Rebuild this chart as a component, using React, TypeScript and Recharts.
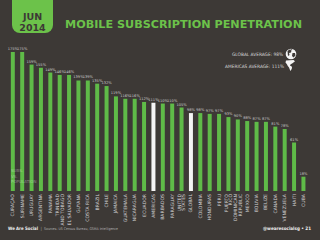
import React from "react";
import { BarChart, Bar, XAxis, YAxis, Cell, LabelList } from "recharts";

// Mobile subscriptions as a share of population, Americas, June 2014
const countries = [
  "CURAÇAO",
  "SURINAME",
  "URUGUAY",
  "ARGENTINA",
  "PANAMA",
  "TRINIDAD\nAND TOBAGO",
  "EL SALVADOR",
  "GUYANA",
  "COSTA RICA",
  "BRAZIL",
  "CHILE",
  "JAMAICA",
  "GUATEMALA",
  "NICARAGUA",
  "ECUADOR",
  "AMERICAS",
  "BARBADOS",
  "PARAGUAY",
  "UNITED\nSTATES",
  "GLOBAL",
  "COLOMBIA",
  "HONDURAS",
  "PERU",
  "PUERTO\nRICO",
  "DOMINICAN\nREPUBLIC",
  "MEXICO",
  "BOLIVIA",
  "BELIZE",
  "CANADA",
  "VENEZUELA",
  "HAITI",
  "CUBA",
];

const penetration = [
  175, 175, 159, 155, 149, 146, 146, 139, 139, 135, 132, 119, 116, 116, 112,
  111, 110, 110, 105, 98, 98, 97, 97, 93, 90, 88, 87, 87, 81, 78, 61, 18,
];

const averageBars = ["AMERICAS", "GLOBAL"];

const globalAverage = 98;
const americasAverage = 111;

const BG = "#3d3936";
const GREEN = "#5fbb48";
const TITLE_GREEN = "#6cc24a";

const data = countries.map((name, i) => ({ name, value: penetration[i] }));

const CountryTick = (props: any) => {
  const { x, y, payload } = props;
  const lines: string[] = String(payload.value).split("\n");
  const n = lines.length;
  return (
    <text
      transform={`translate(${x},${y}) rotate(-90)`}
      textAnchor="end"
      fontSize={4.6}
      fill="#d6d6d6"
      fontFamily="DejaVu Sans, sans-serif"
    >
      {lines.map((l, i) => (
        <tspan key={i} x={0} y={(i - (n - 1) / 2) * 4.8 + 1.6}>
          {l}
        </tspan>
      ))}
    </text>
  );
};

const ValueLabel = (props: any) => {
  const { x, y, width, value } = props;
  return (
    <text
      x={x + width / 2}
      y={y - 2}
      textAnchor="middle"
      fontSize={3.6}
      fill="#c8c8c8"
      fontFamily="DejaVu Sans, sans-serif"
    >
      {`${value}%`}
    </text>
  );
};

export default function App() {
  return (
    <div
      style={{
        position: "absolute",
        left: 0,
        top: 0,
        width: 320,
        height: 240,
        background: BG,
        overflow: "hidden",
      }}
    >
      <BarChart
        width={320}
        height={240}
        data={data}
        margin={{ top: 32, right: 12, bottom: 4, left: 8 }}
        barCategoryGap="30%"
      >
        <YAxis hide domain={[0, 200]} />
        <XAxis
          dataKey="name"
          interval={0}
          axisLine={false}
          tickLine={false}
          tickSize={0}
          tickMargin={3}
          height={45}
          tick={<CountryTick />}
        />
        <Bar dataKey="value" isAnimationActive={false}>
          {data.map((d, i) => (
            <Cell
              key={i}
              fill={averageBars.includes(d.name) ? "#f4f4f4" : GREEN}
            />
          ))}
          <LabelList dataKey="value" content={<ValueLabel />} />
        </Bar>
      </BarChart>

      <svg
        width={320}
        height={240}
        style={{ position: "absolute", left: 0, top: 0, pointerEvents: "none" }}
        fontFamily="DejaVu Sans, sans-serif"
      >
        {/* date tab */}
        <rect x={12} y={-10} width={41} height={43} rx={8} fill={TITLE_GREEN} />
        <text x={32.5} y={20} textAnchor="middle" fontSize={9.5} fontWeight="bold" fill={BG}>
          JUN
        </text>
        <text x={32.5} y={31} textAnchor="middle" fontSize={9.5} fontWeight="bold" fill={BG}>
          2014
        </text>

        {/* title */}
        <text
          x={65}
          y={28.3}
          fontSize={10.5}
          fontWeight="bold"
          fill={TITLE_GREEN}
          textLength={237}
          lengthAdjust="spacingAndGlyphs"
        >
          MOBILE SUBSCRIPTION PENETRATION
        </text>

        {/* averages */}
        <text
          x={283}
          y={55.5}
          textAnchor="end"
          fontSize={4.6}
          fill="#d8d8d8"
          textLength={51}
          lengthAdjust="spacingAndGlyphs"
        >
          {`GLOBAL AVERAGE: ${globalAverage}%`}
        </text>
        <circle cx={291} cy={54} r={5.3} fill="#f4f4f4" />
        <path
          d="M287.5 51 l2 -1.5 l2 1 l-0.5 2 l-2 0.5 l0.5 2 l-1.5 1 z M292.5 53 l2.5 0 l0.5 2.5 l-2 2 l-1.5 -1.5 z M290 49.3 l2.5 0 l-1 1 z"
          fill={BG}
        />
        <text
          x={284}
          y={67.5}
          textAnchor="end"
          fontSize={4.6}
          fill="#d8d8d8"
          textLength={59}
          lengthAdjust="spacingAndGlyphs"
        >
          {`AMERICAS AVERAGE: ${americasAverage}%`}
        </text>
        <path
          d="M286 60.5 l7.5 -0.5 l1.5 1.2 l-2.5 2 l-1.8 1 l-0.8 1.2 l1.6 0.8 l0.6 1.6 l-0.8 2 l-1 1.2 l-0.5 -1.6 l-0.8 -2 l-1.2 -1.4 l-0.9 -1.8 l-1.4 -1.6 z"
          fill="#f4f4f4"
        />

        {/* note over first bars */}
        <g fontSize={4} fill="#ffffff" opacity={0.35}>
          <text x={11} y={172}>SUBS.</text>
          <text x={11} y={177.5}>VS.</text>
          <text x={11} y={183}>POPULATION</text>
        </g>

        {/* footer */}
        <text
          x={8}
          y={229.5}
          fontSize={4.6}
          fontWeight="bold"
          fill="#f0f0f0"
          textLength={30}
          lengthAdjust="spacingAndGlyphs"
        >
          We Are Social
        </text>
        <text x={40.5} y={229.5} fontSize={4.2} fill="#9a9a9a">
          |
        </text>
        <text
          x={44}
          y={229.5}
          fontSize={3.6}
          fill="#b0b0b0"
          textLength={74}
          lengthAdjust="spacingAndGlyphs"
        >
          Sources: US Census Bureau, GSMA Intelligence
        </text>
        <text
          x={311}
          y={229.5}
          textAnchor="end"
          fontSize={4.6}
          fontWeight="bold"
          fill="#f0f0f0"
          textLength={48}
          lengthAdjust="spacingAndGlyphs"
        >
          @wearesocialsg • 21
        </text>
      </svg>
    </div>
  );
}
